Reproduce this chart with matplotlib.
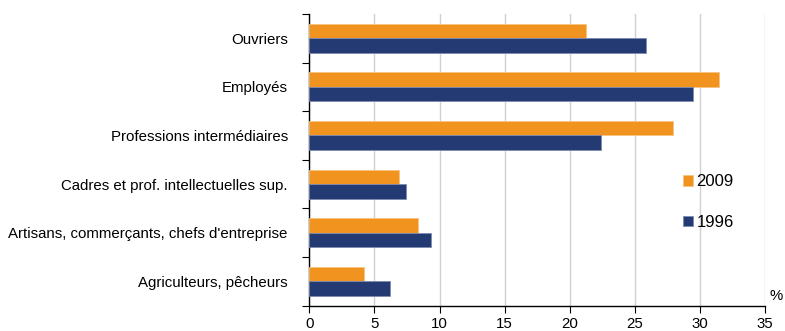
import numpy as np
import matplotlib.pyplot as plt

plt.rcParams["font.family"] = ["Liberation Sans", "DejaVu Sans"]

categories = ["Ouvriers", "Employés", "Professions intermédiaires",
              "Cadres et prof. intellectuelles sup.",
              "Artisans, commerçants, chefs d'entreprise",
              "Agriculteurs, pêcheurs"]
v2009 = [21.25, 31.45, 27.9, 6.9, 8.37, 4.19]
v1996 = [25.87, 29.45, 22.38, 7.42, 9.31, 6.19]
xticks = [0, 5, 10, 15, 20, 25, 30, 35]

orange = "#F0931F"
navy = "#243A73"

fig = plt.figure(figsize=(7.85, 3.31), dpi=100)
ax = fig.add_axes([0.394, 0.0764, 0.5806, 0.8816])

y = np.arange(len(categories))
h = 0.3
ax.barh(y - h / 2, v2009, height=h, color=orange, edgecolor="#F7C37F", linewidth=0.6, label="2009", zorder=3)
ax.barh(y + h / 2, v1996, height=h, color=navy, edgecolor="#7F8BB0", linewidth=0.6, label="1996", zorder=3)

ax.set_xlim(0, 35)
ax.set_ylim(len(categories) - 0.5, -0.5)
ax.set_xticks(xticks)
ax.set_xticklabels([str(t) for t in xticks], fontsize=10.8)
ax.set_yticks(y)
ax.set_yticklabels(categories, fontsize=10.8)
ax.tick_params(axis="y", length=0, pad=15.5)
ax.set_yticks(np.arange(-0.5, len(categories)), minor=True)
ax.tick_params(axis="y", which="minor", length=5, width=0.8, direction="out")
ax.tick_params(axis="x", length=5, width=0.8, pad=3)

ax.grid(axis="x", color="#D0D0D0", linewidth=1, zorder=0)
for s in ["top", "right"]:
    ax.spines[s].set_visible(False)
ax.spines["left"].set_linewidth(1)
ax.spines["bottom"].set_linewidth(1)

ax.text(1.0 + 11 / 455, 0.01, "%", transform=ax.transAxes, fontsize=10.8,
        ha="center", va="bottom")

leg = ax.legend(loc="center left", bbox_to_anchor=(0.82, 0.355), frameon=False,
                fontsize=12, handlelength=0.6, handleheight=0.6,
                handletextpad=0.2, labelspacing=1.55, borderpad=0,
                borderaxespad=0)

fig.savefig("out.png", dpi=100)
